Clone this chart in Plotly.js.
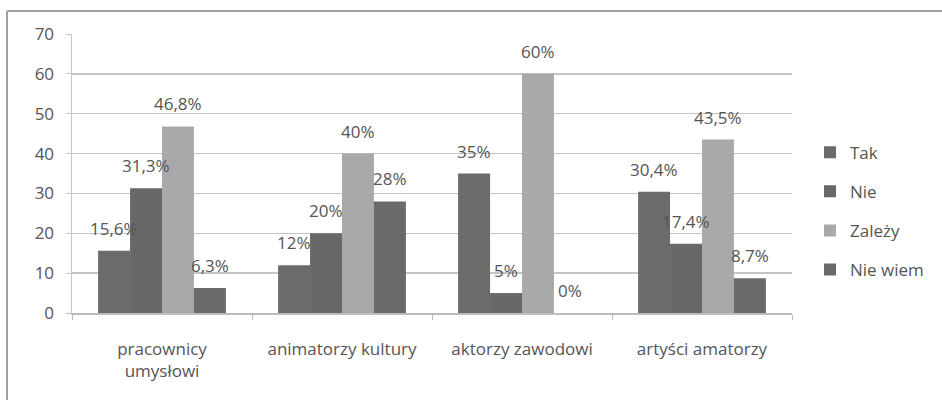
<!DOCTYPE html>
<html>
<head>
<meta charset="utf-8">
<script src="https://cdn.plot.ly/plotly-3.0.1.min.js"></script>
<style>html,body{margin:0;padding:0;background:#fff;}#chart{width:942px;height:403px;}</style>
</head>
<body>
<div id="chart"></div>
<script>
const categories = ["pracownicy<br>umysłowi", "animatorzy kultury", "aktorzy zawodowi", "artyści amatorzy"];
const seriesNames = ["Tak", "Nie", "Zależy", "Nie wiem"];
const tak = [15.6, 12, 35, 30.4];
const nie = [31.3, 20, 5, 17.4];
const zalezy = [46.8, 40, 60, 43.5];
const nieWiem = [6.3, 28, 0, 8.7];
const labelsTak = ["15,6%", "12%", "35%", "30,4%"];
const labelsNie = ["31,3%", "20%", "5%", "17,4%"];
const labelsZalezy = ["46,8%", "40%", "60%", "43,5%"];
const labelsNieWiem = ["6,3%", "28%", "0%", "8,7%"];
const yTicks = [0, 10, 20, 30, 40, 50, 60, 70];

const seriesValues = [tak, nie, zalezy, nieWiem];
const seriesLabels = [labelsTak, labelsNie, labelsZalezy, labelsNieWiem];
const colors = ["#6b6b6b", "#686868", "#a9a9a9", "#6a6a6a"];
const textColor = "#555555";
const font = "Open Sans, Noto Sans, sans-serif";
const bargap = 0.29;
const nS = seriesValues.length;
const barW = (1 - bargap) / nS;

const traces = seriesValues.map((vals, j) => ({
  type: "bar",
  name: seriesNames[j],
  x: categories,
  y: vals,
  legendgroup: "g" + j,
  marker: {color: colors[j], line: {width: 0}},
  hoverinfo: "skip"
}));

const annotations = [];
seriesValues.forEach((vals, j) => {
  vals.forEach((v, i) => {
    annotations.push({
      xref: "x", yref: "y",
      x: i + (j - (nS - 1) / 2) * barW,
      y: v,
      text: seriesLabels[j][i],
      showarrow: false,
      yanchor: "bottom",
      yshift: 9,
      font: {family: font, size: 17, color: textColor}
    });
  });
});

const shapes = [
  {type: "line", xref: "paper", yref: "paper", x0: (7 - 72) / 720, x1: 1.3, y0: (313 - 11) / 279, y1: (313 - 11) / 279, line: {color: "#a0a0a0", width: 2}},
  {type: "line", xref: "paper", yref: "paper", x0: (7 - 72) / 720, x1: (7 - 72) / 720, y0: (313 - 11) / 279, y1: (313 - 400) / 279, line: {color: "#a0a0a0", width: 2}}
];

const layout = {
  width: 942, height: 403,
  margin: {l: 72, r: 150, t: 34, b: 90},
  paper_bgcolor: "#ffffff",
  plot_bgcolor: "#ffffff",
  barmode: "group",
  bargap: bargap,
  bargroupgap: 0,
  font: {family: font, size: 17, color: textColor},
  showlegend: true,
  legend: {
    x: 1.025, xanchor: "left", y: 0.365, yanchor: "middle",
    font: {family: font, size: 17, color: textColor},
    tracegroupgap: 14,
    itemwidth: 30,
    traceorder: "grouped"
  },
  xaxis: {
    type: "category",
    showgrid: false,
    showline: true, linecolor: "#bdbdbd", linewidth: 1.5,
    ticks: "outside", tickson: "boundaries", ticklen: 5, tickcolor: "#bdbdbd",
    ticklabelstandoff: 20,
    tickfont: {family: font, size: 17, color: textColor},
    fixedrange: true
  },
  yaxis: {
    range: [0, 70],
    tickvals: yTicks,
    showgrid: true, gridcolor: "#c4c4c4", gridwidth: 1.5,
    showline: true, linecolor: "#c4c4c4", linewidth: 1.5,
    ticks: "outside", ticklen: 5, tickcolor: "#c4c4c4",
    ticklabelstandoff: 8,
    zeroline: false,
    tickfont: {family: font, size: 17, color: textColor},
    fixedrange: true
  },
  annotations: annotations,
  shapes: shapes
};

Plotly.newPlot("chart", traces, layout, {staticPlot: true, displayModeBar: false});
</script>
</body>
</html>
